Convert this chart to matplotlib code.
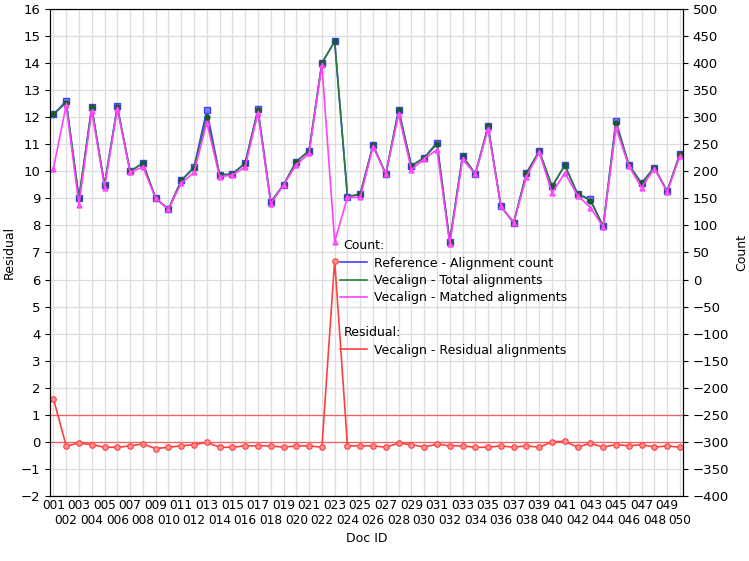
import matplotlib
matplotlib.use("Agg")
import matplotlib.pyplot as plt
from matplotlib.lines import Line2D
import numpy as np

docs = [f"{i:03d}" for i in range(1, 51)]
reference = [305,330,150,318,175,320,200,215,150,130,183,208,313,193,195,215,315,143,175,218,
             238,400,440,153,158,248,195,313,210,225,253,70,228,195,283,135,105,197,237,172,
             211,158,148,98,293,212,178,207,163,232]
total = [305,327,150,318,175,318,200,215,150,130,183,206,300,193,195,215,313,143,175,218,
         238,400,440,153,158,248,195,313,210,225,250,70,228,195,283,135,105,197,237,172,
         211,158,146,98,290,212,178,207,163,232]
matched = [205,322,138,312,170,315,198,208,150,130,178,198,290,190,193,208,308,140,175,212,
           233,397,70,152,152,245,195,305,203,223,240,65,222,195,278,135,105,190,235,160,
           197,155,133,97,280,210,170,205,162,228]
residual = [1.6,-0.15,-0.05,-0.1,-0.2,-0.2,-0.15,-0.08,-0.25,-0.2,-0.15,-0.1,-0.02,-0.2,-0.2,
            -0.15,-0.15,-0.15,-0.2,-0.15,-0.15,-0.2,6.7,-0.15,-0.15,-0.15,-0.2,-0.05,-0.1,-0.2,
            -0.08,-0.15,-0.15,-0.2,-0.2,-0.15,-0.2,-0.15,-0.2,0.0,0.02,-0.2,-0.05,-0.2,-0.1,
            -0.15,-0.1,-0.2,-0.15,-0.2]

x = np.arange(len(docs))
fig = plt.figure(figsize=(7.49, 5.61), dpi=100)
ax = fig.add_axes([0.067, 0.116, 0.845, 0.868])
ax2 = ax.twinx()

ax.set_ylim(-2, 16)
ax.set_yticks(range(-2, 17))
ax2.set_ylim(-400, 500)
ax2.set_yticks(range(-400, 501, 50))
ax.set_xlim(-0.25, 49.25)
ax.set_xticks(x)
ax.set_xticklabels([d if i % 2 == 0 else "\n" + d for i, d in enumerate(docs)], fontsize=8.7)
ax.tick_params(axis='x', length=0, pad=2)
ax.grid(True, color="#dddddd", lw=0.9)
ax.set_axisbelow(True)
ax.tick_params(axis='y', labelsize=9.5)
ax2.tick_params(axis='y', labelsize=9.5)
ax.set_ylabel("Residual", fontsize=9)
ax2.set_ylabel("Count", fontsize=9)
ax.set_xlabel("Doc ID", fontsize=9)

ax.axhline(1, color="#f06060", lw=0.9)
ax.axhline(0, color="#f06060", lw=0.9)
ax.plot(x, residual, color="#ff4040", lw=1.2, marker='o', ms=4, mfc="#ff9090", mec="#ff4040", mew=0.8)

ax2.plot(x, reference, color="#4040ff", lw=1.2, marker='s', ms=4, mfc="#8080ff", mec="#4040ff")
ax2.plot(x, total, color="#2a7a3a", lw=1.2, marker='o', ms=3.5, mfc="#1a5a2a", mec="#1a5a2a")
ax2.plot(x, matched, color="#ff40ff", lw=1.2, marker='^', ms=3.5, mfc="#ff60ff", mec="#ff40ff")

blank = Line2D([], [], color='none')
handles = [blank,
           Line2D([], [], color="#4040ff", lw=1.2),
           Line2D([], [], color="#2a7a3a", lw=1.2),
           Line2D([], [], color="#ff40ff", lw=1.2),
           blank, blank,
           Line2D([], [], color="#ff4040", lw=1.2)]
labels = ["Count:", "Reference - Alignment count", "Vecalign - Total alignments",
          "Vecalign - Matched alignments", "", "Residual:", "Vecalign - Residual alignments"]
leg = ax2.legend(handles, labels, loc='upper left', bbox_to_anchor=(0.44, 0.55), frameon=False,
                 fontsize=9, handlelength=2.2, labelspacing=0.35, handletextpad=0.5)
for t in leg.get_texts():
    if t.get_text() in ("Count:", "Residual:"):
        t.set_x(-30)
fig.savefig("out.png", dpi=100)
